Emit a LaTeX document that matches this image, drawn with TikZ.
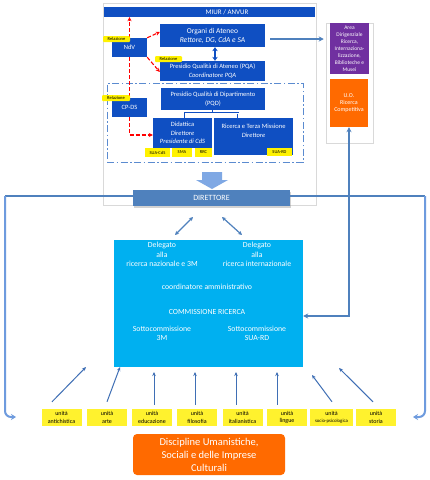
\documentclass[tikz,border=0pt]{standalone}
\usepackage{fontspec}
\setmainfont{Carlito}
\usetikzlibrary{arrows.meta,calc,shadows}
\definecolor{dblue}{HTML}{0F4FC2}
\definecolor{steel}{HTML}{4F81BD}
\definecolor{darrow}{HTML}{3F6FB5}
\definecolor{lblue}{HTML}{7FA8E4}
\definecolor{hookc}{HTML}{6E9BDE}
\definecolor{cyanbox}{HTML}{00B0F0}
\definecolor{ylw}{HTML}{FFF22E}
\definecolor{purp}{HTML}{7030A0}
\definecolor{orng}{HTML}{FF6A00}
\definecolor{ddash}{HTML}{5B8BD0}
\definecolor{pgray}{HTML}{D9D9D9}
\tikzset{
  dbox/.style={fill=dblue, text=white, inner sep=0pt, align=center, font=\fontsize{6.5}{8.5}\selectfont},
  relbox/.style={fill=yellow, rounded corners=1pt, inner sep=0pt, minimum width=27pt, minimum height=6pt, font=\fontsize{4.5}{5}\selectfont, text=black},
  tagbox/.style={fill=yellow, inner sep=0pt, minimum height=9pt, font=\fontsize{4.5}{5}\selectfont, text=black},
  unitbox/.style={fill=ylw, inner sep=0pt, minimum width=40pt, minimum height=17pt, align=center, font=\fontsize{6}{7.5}\selectfont},
  wtext/.style={text=white, inner sep=0pt, align=center, font=\fontsize{7.8}{9.5}\selectfont},
  redarrow/.style={draw=red, line width=1.1pt, dash pattern=on 4pt off 2pt, -{Stealth[length=4pt,width=4pt]}},
  redline/.style={draw=red, line width=1.1pt, dash pattern=on 4pt off 2pt},
  barrow/.style={draw=steel, line width=1.4pt, -{Stealth[length=5pt,width=5pt]}},
  uarr/.style={draw=darrow, line width=1pt, -{Stealth[length=4pt,width=3.5pt]}},
  dblarrow/.style={draw=steel, line width=1.2pt, {Stealth[length=4pt,width=4pt]}-{Stealth[length=4pt,width=4pt]}},
  hookline/.style={draw=hookc, line width=2pt, rounded corners=6pt, -{Stealth[length=5pt,width=6pt]}},
  panel/.style={draw=pgray, line width=0.5pt},
  dashdot/.style={draw=ddash, line width=0.9pt, dash pattern=on 7pt off 2.5pt on 1.5pt off 2.5pt}
}
\begin{document}
\begin{tikzpicture}[x=1pt,y=-1pt]
\useasboundingbox (0,0) rectangle (430,480);
\fill[white] (0,0) rectangle (430,480);

% panels
\node[panel, minimum width=213pt, minimum height=202pt, inner sep=0pt] (toppanel) at (209.5,104) {};
\node[panel, minimum width=47pt, minimum height=120pt, inner sep=0pt] (rp) at (349.5,83) {};
\node[dashdot, minimum width=196pt, minimum height=79pt, inner sep=0pt] (frame) at (205,122.5) {};

% top bar
\node[dbox, minimum width=211pt, minimum height=10pt] (miur) at (209.5,12) {};
\node[wtext, font=\fontsize{7}{8}\selectfont] (miurt) at (227,12) {MIUR / ANVUR};

% dark blue boxes
\node[dbox, minimum width=105pt, minimum height=23pt, font=\fontsize{7.5}{9}\selectfont] (org) at (212.5,35.5) {Organi di Ateneo\\\textit{Rettore, DG, CdA e SA}};
\node[dbox, minimum width=105pt, minimum height=20pt] (pqa) at (212.5,71) {Presidio Qualità di Ateneo (PQA)\\\textit{Coordinatore PQA}};
\node[dbox, minimum width=35pt, minimum height=19pt] (ndv) at (129.5,47.5) {NdV};
\node[dbox, minimum width=35pt, minimum height=19pt] (cpds) at (129.5,107.5) {CP-DS};
\node[dbox, minimum width=104pt, minimum height=22pt] (pqd) at (213,99) {Presidio Qualità di Dipartimento\\(PQD)};
\node[dbox, minimum width=59pt, minimum height=30pt] (did) at (182.5,133) {Didattica\\\textit{Direttore}\\\textit{Presidente di CdS}};
\node[dbox, minimum width=79pt, minimum height=37pt] (ric) at (253.5,136.5) {Ricerca e Terza Missione\\\textit{Direttore}\\[3pt]};

% red dashed connectors
\draw[redarrow] (ndv.north) -- (ndv.north |- miur.south);
\draw[redline] (ndv.south) -- (cpds.north);
\draw[redarrow] (cpds.south) |- ([yshift=-2pt]did.west);
\draw[redarrow] (ndv.north east) -- ([yshift=3.5pt]org.west);
\draw[redarrow] (ndv.south east) -- ([yshift=-1pt]pqa.west);

% blue connectors in top panel
\draw[draw=dblue, line width=1.5pt, {Stealth[length=4pt,width=5.5pt]}-{Stealth[length=4pt,width=5.5pt]}] ([xshift=2.5pt]org.south) -- ([xshift=2.5pt]pqa.north);
\coordinate (tm) at ($(pqd.south)+(0,3)$);
\draw[draw=dblue, double=white, line width=0.6pt, double distance=0.7pt] (pqd.south) -- (tm);
\draw[draw=dblue, double=white, line width=0.6pt, double distance=0.7pt] ([xshift=2.5pt]did.north) |- (tm) -| ([xshift=-15.5pt]ric.north);

% labels
\node[relbox] (rel1) at (116.5,39) {Relazione};
\node[relbox] (rel2) at (168.5,59) {Relazione};
\node[relbox, minimum width=28pt] (rel3) at (116,98) {Relazione};
\node[tagbox, minimum width=25pt] (suacds) at (157.5,152.5) {SUA-CdS};
\node[tagbox, minimum width=20pt] (sma) at (182,152.5) {SMA};
\node[tagbox, minimum width=17pt] (rrc) at (203.5,152.5) {RRC};
\node[tagbox, minimum width=25pt, minimum height=8pt] (suard) at (279.5,152) {SUA-RD};

% right panel boxes
\node[fill=purp, text=white, inner sep=0pt, minimum width=39pt, minimum height=51pt, align=center, font=\fontsize{5.5}{7}\selectfont] (area) at (349.5,48.5) {Area\\Dirigenziale\\Ricerca,\\Internaziona-\\lizzazione,\\Biblioteche e\\Musei};
\node[fill=orng, text=white, inner sep=0pt, minimum width=38pt, minimum height=48pt, align=center, font=\fontsize{6}{7}\selectfont] (uo) at (349,103) {U.O.\\Ricerca\\Competitiva};

\draw[barrow] ([xshift=5pt,yshift=-3.5pt]org.east) -- ([xshift=-2pt,yshift=-3.5pt]org.east -| rp.west);

% block arrow
\fill[lblue] (202,172) -- (222,172) -- (222,180) -- (228,180) -- (212,189) -- (196,180) -- (202,180) -- cycle;

% DIRETTORE
\node[fill=steel, text=white, minimum width=157pt, minimum height=16pt, inner sep=0pt, font=\fontsize{8}{9}\selectfont, drop shadow={shadow xshift=1pt,shadow yshift=-1.5pt,opacity=0.35}] (dir) at (211.5,198) {DIRETTORE};

% cyan box
\node[fill=cyanbox, minimum width=189pt, minimum height=127pt, inner sep=0pt] (cb) at (208.5,303.5) {};
\node[wtext] (del1) at (162,254.5) {Delegato\\alla\\ricerca nazionale e 3M};
\node[wtext] (del2) at (257,254.5) {Delegato\\alla\\ricerca internazionale};
\node[wtext] (coord) at (207,287) {coordinatore amministrativo};
\node[wtext] (comm) at (207,312) {COMMISSIONE RICERCA};
\node[wtext] (sc1) at (162,333.5) {Sottocommissione\\3M};
\node[wtext] (sc2) at (257,333.5) {Sottocommissione\\SUA-RD};

% direttore double arrows
\coordinate (a1) at (193,217); \coordinate (a2) at (175,235);
\coordinate (b1) at (222,217); \coordinate (b2) at (242,235);
\draw[dblarrow] (a1) -- (a2);
\draw[dblarrow] (b1) -- (b2);

% long connectors
\coordinate (cL) at (5,196); \coordinate (eL) at (16,417);
\coordinate (cR) at (425,196); \coordinate (eR) at (413,417);
\draw[steel, line width=1.3pt] ([yshift=2pt]dir.west) -- (cL);
\draw[steel, line width=1.3pt] ([yshift=2pt]dir.east) -- (cR);
\draw[hookline] (cL) |- (eL);
\draw[hookline] (cR) |- (eR);

% U.O. <-> commissione
\draw[draw=steel, line width=1.6pt, {Stealth[length=5pt,width=5pt]}-{Stealth[length=5pt,width=5pt]}] (uo.south) |- ([yshift=-12.5pt]cb.east);

% units
\node[unitbox] (u1) at (61.5,417.5) {unità\\antichistica};
\node[unitbox] (u2) at (107,417.5) {unità\\arte};
\node[unitbox] (u3) at (152,417.5) {unità\\educazione};
\node[unitbox] (u4) at (197,417.5) {unità\\filosofia};
\node[unitbox] (u5) at (242.5,417.5) {unità\\italianistica};
\node[unitbox] (u6) at (287,417.5) {unità\\lingue};
\node[unitbox, minimum width=43pt, font=\fontsize{4.8}{7.5}\selectfont] (u7) at (331.5,417.5) {{\fontsize{6}{7.5}\selectfont unità}\\socio-psicologica};
\node[unitbox] (u8) at (376,417.5) {unità\\storia};

\coordinate (t1) at (86,367); \coordinate (t2) at (120,367);
\coordinate (t3) at (154,372); \coordinate (t4) at (195,372);
\coordinate (t5) at (236,372); \coordinate (t6) at (277,372);
\coordinate (t7) at (312,375); \coordinate (t8) at (339,368);
\draw[uarr] ($(u1.north)+(-9.5,-7)$) -- (t1);
\draw[uarr] ($(u2.north)+(0,-7)$) -- (t2);
\draw[uarr] ($(u3.north)+(2,-4)$) -- (t3);
\draw[uarr] ($(u4.north)+(-2,-4)$) -- (t4);
\draw[uarr] ($(u5.north)+(-6.5,-4)$) -- (t5);
\draw[uarr] ($(u6.north)+(-10,-4)$) -- (t6);
\draw[uarr] ($(u7.north)+(0.5,-7)$) -- (t7);
\draw[uarr] ($(u8.north)+(-3,-7)$) -- (t8);

% bottom department box
\node[fill=orng, rounded corners=4pt, minimum width=152pt, minimum height=41pt, inner sep=0pt, text=white, align=center, font=\fontsize{10.5}{13}\selectfont] (disc) at (209,454.5) {Discipline Umanistiche,\\Sociali e delle Imprese\\Culturali};
\end{tikzpicture}
\end{document}
